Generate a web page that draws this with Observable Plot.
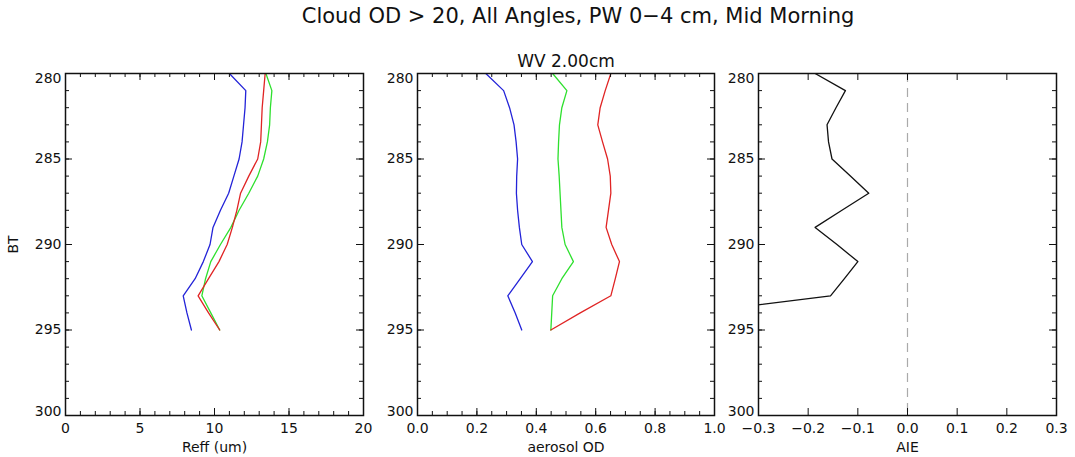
<!DOCTYPE html>
<html>
<head>
<meta charset="utf-8">
<script src="https://cdn.jsdelivr.net/npm/d3@7"></script>
<script src="https://cdn.jsdelivr.net/npm/@observablehq/plot@0.6"></script>
<style>
  html, body { margin: 0; padding: 0; background: white; }
  #wrap { position: relative; width: 1075px; height: 457px; font-family: "DejaVu Sans", sans-serif; overflow: hidden; }
  #title { position: absolute; top: 4px; left: 578px; transform: translateX(-50%); white-space: nowrap; font-size: 21px; color: #111; }
</style>
</head>
<body>
<div id="wrap">
  <div id="title">Cloud OD &gt; 20, All Angles, PW 0−4 cm, Mid Morning</div>
</div>
<script>
// ---- data ----
const bt = [280, 281, 282, 283, 284, 285, 286, 287, 288, 289, 290, 291, 292, 293, 294, 295];

const reffBlue  = [11.0, 12.1, 12.05, 11.95, 11.85, 11.65, 11.3, 10.95, 10.4, 9.9, 9.7, 9.25, 8.7, 7.9, 8.15, 8.45];
const reffRed   = [13.4, 13.3, 13.2, 13.15, 13.1, 12.9, 12.3, 11.75, 11.5, 11.2, 10.85, 10.3, 9.6, 8.9, 9.6, 10.35];
const reffGreen = [13.45, 13.85, 13.75, 13.7, 13.55, 13.3, 12.9, 12.3, 11.65, 11.1, 10.4, 9.75, 9.4, 9.15, 9.75, 10.35];

const aodBlue  = [0.23, 0.29, 0.31, 0.325, 0.332, 0.337, 0.334, 0.333, 0.337, 0.343, 0.351, 0.387, 0.346, 0.304, 0.329, 0.351];
const aodGreen = [0.455, 0.503, 0.486, 0.478, 0.475, 0.473, 0.477, 0.48, 0.483, 0.486, 0.497, 0.525, 0.486, 0.455, 0.452, 0.449];
const aodRed   = [0.651, 0.632, 0.615, 0.607, 0.623, 0.64, 0.649, 0.651, 0.643, 0.635, 0.654, 0.68, 0.666, 0.651, 0.548, 0.449];

const aie = [-0.186, -0.125, -0.144, -0.162, -0.159, -0.152, -0.115, -0.078, -0.132, -0.186, -0.142, -0.1, -0.127, -0.155, -0.43, -0.5];

const btTicks = [280, 285, 290, 295, 300];
const btMinor = d3.range(280, 301, 1);
const reffTicks = [0, 5, 10, 15, 20];
const reffMinor = d3.range(0, 21, 1);
const aodTicks = [0, 0.2, 0.4, 0.6, 0.8, 1.0];
const aodMinor = d3.range(0, 1.0001, 0.05);
const aieTicks = [-0.3, -0.2, -0.1, 0, 0.1, 0.2, 0.3];

const colors = { blue: "#2323d8", red: "#e02424", green: "#2ee02e" };

// ---- layout ----
const H = 457, MT = 73, MB = 42;
const frameH = H - MT - MB;
const MAJ = 7, MIN = 4;
const ink = "#111";

function ticksMarks(xMajor, xMinor, frameW) {
  const marks = [];
  for (const [vals, len] of [[xMajor, MAJ], [xMinor, MIN]]) {
    marks.push(Plot.tickX(vals, {x: d => d, insetTop: frameH - len, stroke: ink}));
    marks.push(Plot.tickX(vals, {x: d => d, insetBottom: frameH - len, stroke: ink}));
  }
  for (const [vals, len] of [[btTicks, MAJ], [btMinor, MIN]]) {
    marks.push(Plot.tickY(vals, {y: d => d, insetRight: frameW - len, stroke: ink}));
    marks.push(Plot.tickY(vals, {y: d => d, insetLeft: frameW - len, stroke: ink}));
  }
  return marks;
}

function series(xs, color) {
  return Plot.line(bt.map((b, i) => ({bt: b, v: xs[i]})), {x: "v", y: "bt", stroke: color, strokeWidth: 1.3, clip: true});
}

function yLabels() {
  const first = btTicks[0], last = btTicks[btTicks.length - 1];
  const mid = btTicks.slice(1, -1);
  const common = {anchor: "left", tickSize: 0, tickPadding: 4, tickFormat: d3.format("d"), label: null};
  return [
    Plot.axisY({...common, ticks: [first], dy: 5}),
    Plot.axisY({...common, ticks: mid}),
    Plot.axisY({...common, ticks: [last], dy: -4})
  ];
}

function panel({left, width, ml, mr, xDomain, xTicks, xMinor, xFmt, xLabel, extra = [], yLabel = null, top = null}) {
  const frameW = width - ml - mr;
  const marks = [
    ...extra,
    Plot.frame({stroke: ink, strokeWidth: 1.5}),
    ...ticksMarks(xTicks, xMinor, frameW),
    Plot.axisX({anchor: "bottom", ticks: xTicks, tickSize: 0, tickPadding: 8, tickFormat: xFmt, label: null}),
    ...yLabels(),
    Plot.text([xLabel], {frameAnchor: "bottom", lineAnchor: "middle", dy: 32, fontSize: 14, fill: ink})
  ];
  if (yLabel) marks.push(Plot.text([yLabel], {frameAnchor: "left", textAnchor: "middle", lineAnchor: "middle", dx: -52, rotate: -90, fontSize: 14, fill: ink}));
  if (top) marks.push(Plot.text([top], {frameAnchor: "top", lineAnchor: "middle", dy: -12, fontSize: 17, fill: ink}));
  const svg = Plot.plot({
    width, height: H,
    marginLeft: ml, marginRight: mr, marginTop: MT, marginBottom: MB,
    style: {fontSize: "14px", fontFamily: "DejaVu Sans, sans-serif", color: ink, background: "transparent", overflow: "visible"},
    x: {domain: xDomain, label: null},
    y: {domain: [280, 300], reverse: true, label: null},
    marks
  });
  svg.style.position = "absolute";
  svg.style.left = left + "px";
  svg.style.top = "0px";
  document.getElementById("wrap").appendChild(svg);
}

panel({
  left: 0, width: 375, ml: 65, mr: 12,
  xDomain: [0, 20], xTicks: reffTicks, xMinor: reffMinor, xFmt: d3.format("d"),
  xLabel: "Reff (um)", yLabel: "BT",
  extra: [series(reffBlue, colors.blue), series(reffGreen, colors.green), series(reffRed, colors.red)]
});

panel({
  left: 375, width: 360, ml: 42, mr: 21,
  xDomain: [0, 1], xTicks: aodTicks, xMinor: aodMinor, xFmt: d3.format(".1f"),
  xLabel: "aerosol OD", top: "WV 2.00cm",
  extra: [series(aodBlue, colors.blue), series(aodGreen, colors.green), series(aodRed, colors.red)]
});

panel({
  left: 735, width: 340, ml: 23, mr: 19,
  xDomain: [-0.3, 0.3], xTicks: aieTicks, xMinor: [], xFmt: d3.format(".1f"),
  xLabel: "AIE",
  extra: [
    Plot.ruleX([0], {stroke: "#aaa", strokeWidth: 1.2, strokeDasharray: "9,6"}),
    series(aie, ink)
  ]
});
</script>
</body>
</html>
